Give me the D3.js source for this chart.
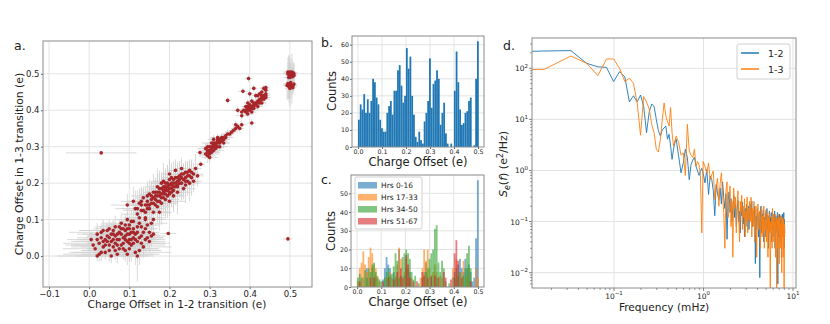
<!DOCTYPE html>
<html lang="en">
<head>
<meta charset="utf-8">
<title>Charge offset figure</title>
<script src="https://d3js.org/d3.v7.min.js"></script>
<style>
  body { margin: 0; background: #fff; }
  text { font-family: "DejaVu Sans", sans-serif; fill: #222; }
</style>
</head>
<body>
<script>
// ---- panel a: scatter of offsets (grouped by cluster) ----
var lowX = [0.005,0.015,0.02,0.025,0.03,0.03,0.035,0.04,0.045,0.05,0.05,0.055,0.06,0.06,0.065,0.07,0.07,0.075,0.08,0.08,0.085,0.09,0.09,0.095,0.1,0.1,0.105,0.11,0.11,0.115,0.12,0.12,0.125,0.13,0.135,0.14,0.145,0.15,0.02,0.04,0.065,0.075,0.085,0.095,0.1,0.105,0.13,0.155,0.16,0.035,0.055,0.09,0.1,0.12,0.14,0.045,0.08,0.11,0.125,0.095];
var lowY = [0.045,0.02,0.06,0.035,0.01,0.05,0.07,0.03,0.055,0.015,0.075,0.04,0.06,0.025,0.08,0.045,0.005,0.065,0.03,0.09,0.05,0.07,0.015,0.04,0.06,0.085,0.03,0.05,0.075,0.01,0.04,0.065,0.09,0.055,0.025,0.075,0.05,0.065,0.0,0.01,0.035,0.02,0.075,0.1,0.045,0.065,0.08,0.055,0.06,0.04,0.0,0.055,0.02,0.0,0.1,0.07,0.06,0.095,0.015,0.005];
var lowEX = [0.06,0.08,0.05,0.09,0.07,0.04,0.06,0.085,0.05,0.07,0.04,0.09,0.06,0.08,0.05,0.075,0.09,0.04,0.07,0.05,0.08,0.045,0.09,0.06,0.05,0.07,0.085,0.04,0.06,0.09,0.05,0.04,0.03,0.06,0.07,0.03,0.04,0.02,0.1,0.09,0.07,0.08,0.04,0.03,0.06,0.05,0.03,0.02,0.015,0.08,0.09,0.05,0.07,0.04,0.03,0.07,0.06,0.03,0.05,0.08];
var lowEY = [0.02,0.015,0.03,0.02,0.025,0.02,0.03,0.015,0.02,0.03,0.025,0.02,0.04,0.02,0.03,0.02,0.025,0.03,0.02,0.025,0.035,0.02,0.03,0.04,0.03,0.02,0.045,0.03,0.02,0.035,0.05,0.03,0.02,0.04,0.03,0.02,0.03,0.025,0.015,0.02,0.03,0.02,0.025,0.02,0.035,0.03,0.02,0.03,0.02,0.025,0.02,0.03,0.035,0.07,0.02,0.02,0.03,0.02,0.04,0.03];
var low2X = [0.01,0.02,0.03,0.04,0.05,0.06,0.065,0.07,0.075,0.08,0.085,0.09,0.095,0.1,0.105,0.11,0.115,0.12,0.125,0.13,0.135,0.14,0.145,0.15,0.025,0.035,0.045,0.055,0.065,0.075,0.085,0.095,0.105,0.115,0.07,0.06,0.05,0.1,0.11,0.09];
var low2Y = [0.03,0.045,0.065,0.045,0.03,0.045,0.055,0.03,0.045,0.075,0.035,0.085,0.06,0.075,0.045,0.035,0.06,0.08,0.05,0.035,0.065,0.045,0.085,0.04,0.005,0.025,0.04,0.06,0.015,0.08,0.02,0.075,0.095,0.045,0.06,0.07,0.05,0.035,0.065,0.045];
var low2EX = [0.07,0.05,0.08,0.06,0.09,0.05,0.07,0.06,0.08,0.04,0.09,0.05,0.06,0.04,0.07,0.08,0.05,0.03,0.06,0.07,0.04,0.05,0.03,0.04,0.09,0.08,0.06,0.07,0.08,0.05,0.09,0.04,0.03,0.06,0.07,0.06,0.08,0.05,0.04,0.06];
var low2EY = [0.02,0.03,0.02,0.025,0.02,0.03,0.02,0.025,0.03,0.02,0.025,0.03,0.02,0.035,0.02,0.03,0.04,0.02,0.03,0.025,0.02,0.035,0.02,0.03,0.02,0.025,0.02,0.03,0.025,0.02,0.03,0.02,0.03,0.04,0.02,0.025,0.03,0.02,0.03,0.025];

var midX = [0.095,0.11,0.115,0.12,0.125,0.13,0.135,0.14,0.14,0.145,0.15,0.15,0.155,0.16,0.16,0.165,0.17,0.17,0.175,0.175,0.18,0.18,0.185,0.185,0.19,0.19,0.195,0.2,0.2,0.2,0.205,0.21,0.21,0.215,0.215,0.22,0.22,0.225,0.23,0.23,0.235,0.24,0.24,0.245,0.25,0.255,0.26,0.265,0.16,0.155,0.14,0.125,0.165,0.175,0.185,0.195,0.205,0.19,0.18,0.17,0.2,0.21,0.22,0.225,0.235,0.245,0.25,0.26,0.27,0.155,0.145,0.13,0.2,0.215,0.23,0.205,0.185,0.24];
var midY = [0.14,0.15,0.13,0.115,0.145,0.125,0.16,0.14,0.105,0.15,0.13,0.17,0.145,0.16,0.12,0.175,0.15,0.135,0.185,0.165,0.17,0.145,0.19,0.16,0.18,0.2,0.165,0.185,0.21,0.17,0.195,0.18,0.2,0.215,0.19,0.205,0.175,0.22,0.2,0.225,0.21,0.23,0.195,0.22,0.235,0.215,0.225,0.24,0.1,0.09,0.12,0.105,0.14,0.12,0.175,0.19,0.175,0.155,0.2,0.19,0.15,0.165,0.19,0.2,0.185,0.205,0.2,0.205,0.22,0.165,0.13,0.14,0.225,0.235,0.24,0.215,0.205,0.215];
var midEX = [0.04,0.03,0.05,0.04,0.03,0.045,0.02,0.035,0.05,0.03,0.04,0.025,0.035,0.03,0.045,0.02,0.04,0.03,0.025,0.035,0.03,0.04,0.02,0.03,0.035,0.025,0.04,0.03,0.02,0.035,0.025,0.03,0.02,0.025,0.03,0.02,0.035,0.02,0.025,0.02,0.03,0.02,0.025,0.02,0.015,0.02,0.025,0.015,0.03,0.04,0.03,0.04,0.035,0.03,0.025,0.02,0.03,0.035,0.025,0.03,0.04,0.03,0.025,0.02,0.03,0.02,0.025,0.02,0.015,0.03,0.035,0.04,0.02,0.02,0.015,0.025,0.03,0.02];
var midEY = [0.03,0.04,0.05,0.03,0.04,0.06,0.03,0.05,0.04,0.03,0.05,0.04,0.06,0.03,0.05,0.04,0.06,0.03,0.04,0.05,0.03,0.06,0.04,0.05,0.03,0.04,0.06,0.05,0.03,0.04,0.05,0.06,0.03,0.04,0.05,0.03,0.06,0.04,0.05,0.03,0.04,0.03,0.05,0.04,0.03,0.05,0.03,0.04,0.03,0.04,0.05,0.04,0.03,0.05,0.04,0.06,0.04,0.05,0.03,0.05,0.04,0.03,0.05,0.04,0.03,0.04,0.05,0.03,0.03,0.04,0.05,0.03,0.04,0.03,0.03,0.04,0.05,0.04];
var mid2X = [0.12,0.13,0.135,0.145,0.15,0.155,0.16,0.165,0.17,0.175,0.18,0.18,0.185,0.19,0.19,0.195,0.195,0.2,0.2,0.205,0.205,0.21,0.21,0.215,0.22,0.22,0.225,0.23,0.235,0.24,0.245,0.25,0.17,0.165,0.175,0.185,0.19,0.145,0.16,0.255];
var mid2Y = [0.13,0.15,0.125,0.165,0.14,0.155,0.175,0.155,0.165,0.15,0.185,0.16,0.18,0.17,0.19,0.2,0.18,0.195,0.175,0.185,0.2,0.19,0.21,0.2,0.215,0.195,0.21,0.215,0.225,0.205,0.23,0.22,0.175,0.165,0.175,0.17,0.185,0.14,0.145,0.23];
var mid2EX = [0.04,0.035,0.03,0.04,0.03,0.035,0.025,0.03,0.035,0.03,0.025,0.03,0.02,0.03,0.025,0.02,0.03,0.025,0.03,0.02,0.025,0.03,0.02,0.025,0.02,0.03,0.02,0.025,0.02,0.025,0.015,0.02,0.03,0.035,0.03,0.025,0.02,0.04,0.035,0.015];
var mid2EY = [0.05,0.04,0.06,0.04,0.05,0.03,0.05,0.04,0.06,0.05,0.04,0.05,0.03,0.06,0.04,0.05,0.03,0.04,0.06,0.05,0.03,0.04,0.05,0.03,0.04,0.05,0.03,0.04,0.03,0.04,0.03,0.04,0.05,0.04,0.06,0.03,0.05,0.04,0.05,0.03];

var thirdX = [0.29,0.295,0.3,0.3,0.305,0.31,0.31,0.315,0.315,0.32,0.32,0.325,0.325,0.33,0.33,0.335,0.34,0.34,0.295,0.305,0.3,0.31,0.32,0.345,0.35,0.355,0.36,0.365,0.37,0.375,0.38,0.365,0.29,0.335,0.325,
              0.295,0.3,0.305,0.31,0.315,0.32,0.325,0.33,0.3,0.295,0.31,0.32,0.335,0.305,0.315];
var thirdY = [0.28,0.29,0.285,0.3,0.295,0.305,0.29,0.31,0.3,0.315,0.3,0.32,0.31,0.315,0.325,0.32,0.325,0.33,0.275,0.31,0.27,0.32,0.325,0.335,0.335,0.34,0.345,0.35,0.355,0.35,0.36,0.36,0.295,0.31,0.3,
              0.3,0.29,0.3,0.3,0.305,0.31,0.315,0.32,0.28,0.285,0.31,0.32,0.325,0.285,0.295];
var thirdEX = [0.02,0.015,0.025,0.02,0.015,0.02,0.025,0.015,0.02,0.02,0.015,0.02,0.025,0.015,0.02,0.015,0.02,0.015,0.02,0.025,0.02,0.015,0.02,0.015,0.012,0.015,0.012,0.01,0.012,0.01,0.012,0.01,0.02,0.015,0.02,
               0.015,0.02,0.015,0.02,0.015,0.02,0.015,0.02,0.025,0.02,0.015,0.02,0.015,0.02,0.015];
var thirdEY = [0.015,0.02,0.015,0.012,0.02,0.015,0.012,0.015,0.02,0.012,0.015,0.01,0.015,0.02,0.012,0.015,0.01,0.012,0.02,0.015,0.015,0.012,0.01,0.012,0.01,0.012,0.01,0.012,0.01,0.01,0.012,0.01,0.015,0.015,0.012,
               0.012,0.015,0.01,0.012,0.015,0.01,0.012,0.015,0.012,0.015,0.01,0.012,0.01,0.015,0.012];

var upX = [0.385,0.39,0.39,0.395,0.4,0.4,0.405,0.41,0.41,0.415,0.42,0.42,0.425,0.425,0.43,0.43,0.435,0.435,0.44,0.44,0.435,0.425,0.415,0.405,0.395,0.38,0.37,0.4,0.41,0.42,0.43,0.38,0.405,0.395,0.44,
           0.395,0.4,0.405,0.41,0.415,0.42,0.425,0.43,0.435,0.44,0.39,0.4,0.41,0.43,0.395];
var upY = [0.4,0.395,0.41,0.405,0.4,0.415,0.41,0.405,0.42,0.415,0.425,0.41,0.43,0.42,0.435,0.42,0.44,0.43,0.445,0.455,0.46,0.445,0.44,0.425,0.39,0.395,0.4,0.445,0.46,0.44,0.45,0.385,0.395,0.42,0.435,
           0.4,0.405,0.405,0.41,0.42,0.42,0.425,0.43,0.435,0.44,0.4,0.41,0.415,0.44,0.41];
var upEX = [0.015,0.012,0.01,0.015,0.012,0.01,0.015,0.012,0.01,0.012,0.015,0.01,0.012,0.015,0.01,0.012,0.01,0.015,0.012,0.01,0.01,0.012,0.01,0.012,0.015,0.012,0.015,0.01,0.01,0.012,0.01,0.015,0.012,0.01,0.012,
            0.012,0.01,0.012,0.01,0.012,0.01,0.012,0.01,0.012,0.01,0.015,0.012,0.01,0.012,0.015];
var upEY = [0.01,0.012,0.008,0.01,0.012,0.01,0.008,0.01,0.012,0.01,0.008,0.01,0.012,0.01,0.008,0.012,0.01,0.008,0.01,0.012,0.01,0.008,0.01,0.012,0.01,0.008,0.01,0.01,0.008,0.01,0.012,0.01,0.008,0.01,0.01,
            0.01,0.008,0.01,0.012,0.01,0.008,0.01,0.012,0.01,0.008,0.01,0.012,0.01,0.008,0.01];

var halfX = [0.495,0.5,0.5,0.505,0.51,0.497,0.503,0.508,0.498,0.506,0.5,0.497,0.505,0.51,0.502,0.495,0.507,0.5,
             0.498,0.502,0.505,0.5,0.495,0.503,0.498,0.508,0.493,0.51];
var halfY = [0.5,0.495,0.505,0.5,0.495,0.49,0.498,0.503,0.502,0.492,0.47,0.465,0.468,0.472,0.476,0.473,0.462,0.46,
             0.497,0.5,0.505,0.49,0.505,0.465,0.47,0.468,0.468,0.5];
var halfEX = [0.012,0.01,0.012,0.01,0.008,0.012,0.01,0.012,0.01,0.008,0.012,0.01,0.012,0.008,0.01,0.012,0.01,0.012,
              0.01,0.012,0.01,0.008,0.012,0.01,0.012,0.01,0.012,0.008];
var halfEY = [0.03,0.05,0.02,0.04,0.03,0.06,0.02,0.03,0.05,0.02,0.04,0.03,0.05,0.02,0.03,0.04,0.02,0.05,
              0.04,0.03,0.05,0.02,0.04,0.03,0.05,0.02,0.04,0.03];

var oddX = [0.03,0.197,0.495,0.397,0.345,0.405,0.276,0.278,0.383,0.44];
var oddY = [0.283,0.062,0.047,0.487,0.427,0.365,0.284,0.252,0.452,0.462];
var oddEX = [0.088,0.02,0.012,0.01,0.008,0.01,0.01,0.01,0.012,0.01];
var oddEY = [0.005,0.005,0.005,0.01,0.008,0.01,0.01,0.008,0.008,0.008];

// ---- panels b, c: histograms (bin width in e) ----
var binWidth = 0.0074;
var allCounts = [16,25,22,31,20,28,20,27,40,38, 29,25,16,11,9,9,20,24,27,19, 33,33,45,48,36,26,30,58,46,53,
                 30,19,6,3,9,4,2,15,20,27, 52,23,37,39,45,40,13,20,26,8, 2,0,2,0,33,56,38,22,13,14, 20,21,27,29,0,1,40,62];
var hrs0 = [0,0,0,5,0,10,0,0,10,0, 6,0,0,0,4,10,16,12,10,0, 8,5,0,20,0,0,6,10,0,8, 0,0,0,0,0,0,0,8,13,0,
            0,5,0,0,5,0,0,0,0,0, 0,0,0,5,8,0,12,15,10,8, 15,10,12,8,3,5,26,57];
var hrs17 = [3,10,13,19,12,8,16,21,18,12, 10,6,3,0,0,0,5,0,8,5, 0,6,12,21,15,0,8,15,10,0, 5,0,0,0,0,5,10,20,14,20,
             10,0,8,12,8,0,6,5,0,0, 0,0,0,10,0,15,0,5,8,14, 0,6,10,0,0,0,10,5];
var hrs34 = [5,7,5,0,9,5,10,8,12,13, 8,5,4,3,0,5,8,10,6,7, 11,18,14,5,6,16,18,20,18,15, 8,4,6,0,2,0,5,0,8,10,
             15,18,20,31,33,13,8,14,10,3, 0,2,0,0,5,10,6,8,0,6, 10,18,22,10,0,0,0,0];
var hrs51 = [0,3,0,0,0,0,0,5,0,5, 0,0,0,0,3,0,0,5,0,0, 4,0,8,0,10,5,0,17,12,5, 0,3,0,3,0,0,8,6,0,5,
             0,6,0,6,0,5,0,0,8,5, 0,0,4,0,18,25,14,0,5,0, 0,0,0,3,0,0,0,0];
var hrsLabels = ["Hrs 0-16", "Hrs 17-33", "Hrs 34-50", "Hrs 51-67"];

// ---- panel d: noise spectra, frequency bin index k (f = k * df) ----
var dfMHz = 0.0165;
var psdBins = [0,1,2,3,4,5,6,7,8,9,10,11,12,13,14,15,16,17,18,19,20,21,22,23,24,25,26,27,28,29,30,
  32,34,36,38,40,42,44,46,48,50,52,54,56,58,60,
  63,66,69,72,75,78,81,84,87,90,93,96,99,102,105,108,111,114,117,120,123,126,129,132,135,138,141,144,147,150,
  153,156,159,162,165,168,171,174,177,180,183,186,189,192,195,198,
  202,206,210,214,218,222,226,230,234,238,242,246,250,254,258,262,266,270,274,278,282,286,290,294,298,302,
  306,310,314,318,322,326,330,334,338,342,346,350,354,358,362,366,370,374,378,382,386,390,394,398,402,406,
  410,414,418,422,426,430,434,438,442,446,450,454,458,462,466,470,474,478,482,486,490];
var psd12 = [215,218,222,125,107,104,55,86,68,22, 29,22,30,18,5.5,14,20,18,10,6, 4.7,6.3,6.8,7.4,4.1,5.1,3.0,1.65,2.6,3.5, 4.1,
  1.9,0.9,1.4,2.6,1.8,0.66,1.3,1.6,1.8,1.2,0.98,0.8,0.95,1.1,0.9,
  0.57,1.05,0.34,0.78,0.66,0.40,0.13,0.53,0.35,0.27, 0.45,0.22,0.6,0.3,0.18,0.35,0.045,0.25,0.38,0.15,
  0.28,0.1,0.2,0.32,0.12,0.22,0.08,0.18,0.26,0.1, 0.16,0.06,0.2,0.13,0.24,0.09,0.15,0.05,0.18,0.11, 0.22,0.08,0.14,0.2,0.07,0.15,
  0.22,0.12,0.25,0.08,0.16,0.1,0.2,0.015,0.13,0.07, 0.18,0.1,0.05,0.15,0.008,0.12,0.2,0.06,0.14,0.09,
  0.17,0.04,0.12,0.08,0.15,0.05,0.11,0.18,0.07,0.13, 0.03,0.1,0.16,0.06,0.12,0.09,0.15,0.04,0.11,0.07,
  0.14,0.05,0.12,0.09,0.16,0.03,0.1,0.13,0.06,0.11, 0.08,0.15,0.006,0.1,0.13,0.05,0.09,0.14,0.04,0.11,
  0.07,0.13,0.02,0.1,0.08,0.14,0.05,0.12,0.09,0.15, 0.03,0.11,0.06];
var psd13 = [95,95,174,125,72,152,152,100,55,64, 51,21,4.9,28,22,16,8,5.5,2.6,2.3, 4.1,10,21,11.7,9,7.4,17,5.5,3.0,3.8, 4.7,
  3.5,2.0,2.2,0.8,8.0,2.4,2.0,1.8,2.6,1.2,1.5,1.3,0.8,0.06,1.5,
  1.2,0.9,1.4,0.66,0.83,0.98,0.27,0.49,0.7,0.2, 0.55,0.9,0.35,0.15,0.03,0.4,0.6,0.12,0.3,0.5,
  0.08,0.25,0.02,0.45,0.18,0.3,0.06,0.22,0.4,0.12, 0.04,0.25,0.15,0.33,0.07,0.2,0.12,0.28,0.05,0.16, 0.1,0.3,0.06,0.18,0.11,0.25,
  0.1,0.3,0.05,0.18,0.08,0.25,0.04,0.14,0.2,0.02, 0.12,0.22,0.07,0.1,0.16,0.03,0.09,0.19,0.05,0.13,
  0.06,0.2,0.03,0.11,0.07,0.17,0.04,0.09,0.14,0.02, 0.12,0.06,0.15,0.035,0.005,0.1,0.06,0.13,0.03,0.18,
  0.08,0.12,0.04,0.1,0.07,0.14,0.02,0.09,0.12,0.005, 0.06,0.11,0.03,0.14,0.07,0.1,0.015,0.12,0.06,0.09,
  0.03,0.13,0.07,0.01,0.1,0.05,0.12,0.02,0.08,0.11, 0.004,0.09,0.05];
var psdLabels = ["1-2", "1-3"];

var blue = "#1f77b4", orange = "#ff7f0e", green = "#2ca02c", red = "#d62728";
var gridColor = "#e3e3e3", frameColor = "#8a8a8a";

var svg = d3.select("body").append("svg")
            .attr("width", 830)
            .attr("height", 324);

function frame(x0, y0, x1, y1) {
  svg.append("rect")
     .attr("x", x0).attr("y", y0)
     .attr("width", x1 - x0).attr("height", y1 - y0)
     .attr("fill", "none")
     .attr("stroke", frameColor)
     .attr("stroke-width", 1);
}

function tidy(g, size) {
  g.select(".domain").remove();
  g.selectAll(".tick line").attr("stroke", "#666");
  g.selectAll(".tick text").style("font-size", size + "px").attr("fill", "#222");
}

function grid(xs, ys, xticks, yticks) {
  var gr = svg.append("g");
  xticks.forEach(function (t) {
    gr.append("line").attr("x1", xs(t)).attr("x2", xs(t))
      .attr("y1", ys.range()[0]).attr("y2", ys.range()[1])
      .attr("stroke", gridColor).attr("stroke-width", 1);
  });
  yticks.forEach(function (t) {
    gr.append("line").attr("y1", ys(t)).attr("y2", ys(t))
      .attr("x1", xs.range()[0]).attr("x2", xs.range()[1])
      .attr("stroke", gridColor).attr("stroke-width", 1);
  });
}

function label(txt, x, y, size, rot) {
  var t = svg.append("text")
     .attr("text-anchor", "middle")
     .style("font-size", size + "px")
     .text(txt);
  if (rot) t.attr("transform", `translate(${x},${y}) rotate(-90)`);
  else t.attr("x", x).attr("y", y);
  return t;
}

// ===== panel a =====
var ax = d3.scaleLinear().domain([-0.115, 0.555]).range([43, 312]);
var ay = d3.scaleLinear().domain([-0.085, 0.59]).range([287, 41]);
var aXt = [-0.1, 0, 0.1, 0.2, 0.3, 0.4, 0.5];
var aYt = [0, 0.1, 0.2, 0.3, 0.4, 0.5];
grid(ax, ay, aXt, aYt);

var pts = [];
[[lowX, lowY, lowEX, lowEY], [low2X, low2Y, low2EX, low2EY], [midX, midY, midEX, midEY],
 [mid2X, mid2Y, mid2EX, mid2EY], [thirdX, thirdY, thirdEX, thirdEY], [upX, upY, upEX, upEY],
 [halfX, halfY, halfEX, halfEY], [oddX, oddY, oddEX, oddEY]].forEach(function (c) {
  for (var i = 0; i < c[0].length; i++) pts.push({x: c[0][i], y: c[1][i], ex: c[2][i], ey: c[3][i]});
});

var eb = svg.append("g").attr("stroke", "#c9c9c9").attr("stroke-width", 0.8).attr("opacity", 0.85);
eb.selectAll("line.h").data(pts).enter().append("line")
  .attr("x1", d => ax(d.x - d.ex)).attr("x2", d => ax(d.x + d.ex))
  .attr("y1", d => ay(d.y)).attr("y2", d => ay(d.y));
eb.selectAll("line.v").data(pts).enter().append("line")
  .attr("x1", d => ax(d.x)).attr("x2", d => ax(d.x))
  .attr("y1", d => ay(d.y - d.ey)).attr("y2", d => ay(d.y + d.ey));
svg.append("g").selectAll("circle").data(pts).enter().append("circle")
   .attr("cx", d => ax(d.x)).attr("cy", d => ay(d.y)).attr("r", 1.8)
   .attr("fill", "#a8262a");

var gax = svg.append("g").attr("transform", "translate(0,287)")
  .call(d3.axisBottom(ax).tickValues(aXt).tickFormat(d3.format(".1f")).tickSize(2).tickPadding(1.5));
tidy(gax, 8.5);
var gay = svg.append("g").attr("transform", "translate(43,0)")
  .call(d3.axisLeft(ay).tickValues(aYt).tickFormat(d3.format(".1f")).tickSize(2).tickPadding(1.5));
tidy(gay, 8.5);
frame(43, 41, 312, 287);
label("Charge Offset in 1-2 transition (e)", 177, 308, 10.6);
label("Charge Offset in 1-3 transition (e)", 23, 164, 10.8, true);
svg.append("text").attr("x", 14).attr("y", 50).style("font-size", "12.5px").text("a.");

// ===== panel b =====
var bx = d3.scaleLinear().domain([-0.025, 0.525]).range([352, 484]);
var by = d3.scaleLinear().domain([0, 65.1]).range([147, 36]);
var hXt = [0, 0.1, 0.2, 0.3, 0.4, 0.5];
grid(bx, by, hXt, [10, 20, 30, 40, 50, 60]);
svg.append("g").selectAll("rect").data(allCounts).enter().append("rect")
   .attr("x", (d, i) => bx(i * binWidth))
   .attr("width", bx(binWidth) - bx(0))
   .attr("y", d => by(d))
   .attr("height", d => by(0) - by(d))
   .attr("fill", blue);
var gbx = svg.append("g").attr("transform", "translate(0,147)")
  .call(d3.axisBottom(bx).tickValues(hXt).tickFormat(d3.format(".1f")).tickSize(2).tickPadding(1));
tidy(gbx, 6.3);
var gby = svg.append("g").attr("transform", "translate(352,0)")
  .call(d3.axisLeft(by).tickValues([0, 10, 20, 30, 40, 50, 60]).tickSize(2).tickPadding(1));
tidy(gby, 6.3);
frame(352, 36, 484, 147);
label("Charge Offset (e)", 418, 166, 11.5);
label("Counts", 336, 91, 11.5, true);
svg.append("text").attr("x", 321).attr("y", 47).style("font-size", "12.5px").text("b.");

// ===== panel c =====
var cx = d3.scaleLinear().domain([-0.025, 0.525]).range([351, 484]);
var cy = d3.scaleLinear().domain([0, 59.8]).range([287, 175]);
grid(cx, cy, hXt, [10, 20, 30, 40, 50]);
var cSeries = [hrs0, hrs17, hrs34, hrs51];
var cColors = [blue, orange, green, red];
cSeries.forEach(function (s, j) {
  svg.append("g").selectAll("rect").data(s).enter().append("rect")
     .attr("x", (d, i) => cx(i * binWidth))
     .attr("width", cx(binWidth) - cx(0))
     .attr("y", d => cy(d))
     .attr("height", d => cy(0) - cy(d))
     .attr("fill", cColors[j])
     .attr("fill-opacity", 0.6);
});
var gcx = svg.append("g").attr("transform", "translate(0,287)")
  .call(d3.axisBottom(cx).tickValues(hXt).tickFormat(d3.format(".1f")).tickSize(2).tickPadding(1));
tidy(gcx, 6.3);
var gcy = svg.append("g").attr("transform", "translate(351,0)")
  .call(d3.axisLeft(cy).tickValues([0, 10, 20, 30, 40, 50]).tickSize(2).tickPadding(1));
tidy(gcy, 6.3);
frame(351, 175, 484, 287);
label("Charge Offset (e)", 418, 306, 11.5);
label("Counts", 335, 231, 11.5, true);
svg.append("text").attr("x", 321).attr("y", 184).style("font-size", "12.5px").text("c.");

var cl = svg.append("g");
cl.append("rect").attr("x", 355).attr("y", 177).attr("width", 67).attr("height", 52).attr("rx", 2)
  .attr("fill", "#fff").attr("fill-opacity", 0.8).attr("stroke", "#d0d0d0");
hrsLabels.forEach(function (t, j) {
  cl.append("rect").attr("x", 358).attr("y", 182 + j * 12).attr("width", 19).attr("height", 6.5)
    .attr("fill", cColors[j]).attr("fill-opacity", 0.6);
  cl.append("text").attr("x", 381).attr("y", 188 + j * 12).style("font-size", "7.5px").text(t);
});

// ===== panel d =====
var dx = d3.scaleLog().domain([0.01213, 10.8]).range([532, 796]).clamp(true);
var dy = d3.scaleLog().domain([0.00501, 391.7]).range([288, 38]);
var dXt = [0.1, 1, 10];
var dYt = [0.01, 0.1, 1, 10, 100];
grid(dx, dy, dXt, dYt);

svg.append("clipPath").attr("id", "dclip").append("rect")
   .attr("x", 532).attr("y", 38).attr("width", 264).attr("height", 250);
var line = d3.line().x(d => dx(d[0])).y(d => dy(d[1]));
[[psd12, blue], [psd13, orange]].forEach(function (s) {
  var pts = psdBins.map((k, i) => [k * dfMHz, s[0][i]]);
  svg.append("path").datum(pts)
     .attr("clip-path", "url(#dclip)")
     .attr("d", line)
     .attr("fill", "none")
     .attr("stroke", s[1])
     .attr("stroke-width", 1)
     .attr("stroke-opacity", 0.9)
     .attr("stroke-linejoin", "round");
});

// log ticks
var minorX = [], minorY = [];
[0.01, 0.1, 1].forEach(function (p) { for (var m = 2; m < 10; m++) minorX.push(p * m); });
[0.001, 0.01, 0.1, 1, 10, 100].forEach(function (p) { for (var m = 2; m < 10; m++) minorY.push(p * m); });
minorX = minorX.filter(v => v > 0.01213 && v < 10.8);
minorY = minorY.filter(v => v > 0.00501 && v < 391.7);
var tk = svg.append("g").attr("stroke", "#666").attr("stroke-width", 0.8);
dXt.forEach(v => tk.append("line").attr("x1", dx(v)).attr("x2", dx(v)).attr("y1", 288).attr("y2", 291));
minorX.forEach(v => tk.append("line").attr("x1", dx(v)).attr("x2", dx(v)).attr("y1", 288).attr("y2", 289.8));
dYt.forEach(v => tk.append("line").attr("y1", dy(v)).attr("y2", dy(v)).attr("x1", 532).attr("x2", 529));
minorY.forEach(v => tk.append("line").attr("y1", dy(v)).attr("y2", dy(v)).attr("x1", 532).attr("x2", 530.2));

function pow10(x, y, anchor, v) {
  var e = Math.round(Math.log10(v));
  var t = svg.append("text").attr("x", x).attr("y", y).attr("text-anchor", anchor).style("font-size", "7.5px");
  t.append("tspan").text("10");
  t.append("tspan").attr("dy", -3.5).style("font-size", "5.5px").text(e < 0 ? "\u2212" + (-e) : e);
}
dXt.forEach(v => pow10(dx(v), 298.5, "middle", v));
dYt.forEach(v => pow10(528, dy(v) + 3, "end", v));

frame(532, 38, 796, 288);
label("Frequency (mHz)", 664, 311, 10.6);
var yl = svg.append("text").attr("text-anchor", "middle").style("font-size", "11px")
            .attr("transform", "translate(507,164) rotate(-90)");
yl.append("tspan").style("font-style", "italic").text("S");
yl.append("tspan").style("font-style", "italic").style("font-size", "8px").attr("dy", 2.5).text("e");
yl.append("tspan").attr("dy", -2.5).text("(");
yl.append("tspan").style("font-style", "italic").text("f");
yl.append("tspan").text(") (e");
yl.append("tspan").style("font-size", "8px").attr("dy", -4).text("2");
yl.append("tspan").attr("dy", 4).text("/Hz)");
svg.append("text").attr("x", 503).attr("y", 50).style("font-size", "12.5px").text("d.");

var dl = svg.append("g");
dl.append("rect").attr("x", 737).attr("y", 44).attr("width", 53).attr("height", 35).attr("rx", 2)
  .attr("fill", "#fff").attr("fill-opacity", 0.8).attr("stroke", "#d0d0d0");
[blue, orange].forEach(function (c, j) {
  dl.append("line").attr("x1", 741).attr("x2", 759).attr("y1", 53 + j * 16).attr("y2", 53 + j * 16)
    .attr("stroke", c).attr("stroke-width", 1.5);
  dl.append("text").attr("x", 768).attr("y", 56.5 + j * 16).style("font-size", "9.5px").text(psdLabels[j]);
});
</script>
</body>
</html>
